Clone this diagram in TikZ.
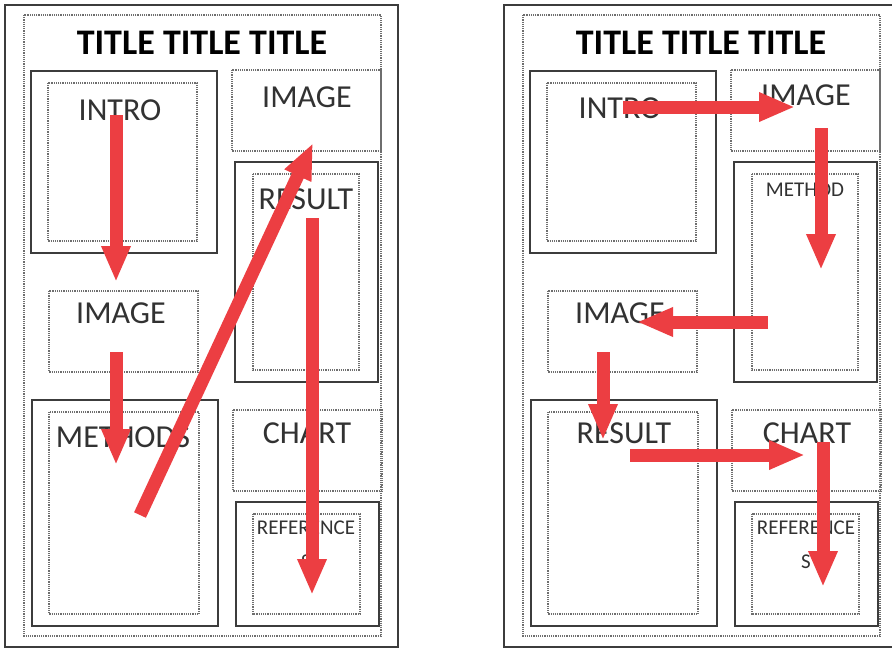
\documentclass[tikz,border=0pt]{standalone}
\usepackage{fontspec}
\setmainfont{Carlito}
\usepackage{xcolor}
\usetikzlibrary{arrows.meta}
\definecolor{frameline}{RGB}{60, 60, 60}
\definecolor{dotline}{RGB}{110, 110, 110}
\definecolor{labeltext}{RGB}{50, 50, 50}
\definecolor{flow}{RGB}{236, 62, 66}

\begin{document}
\begin{tikzpicture}[x=1pt,y=-1pt,
  solidbox/.style={frameline,line width=1.4pt},
  dotbox/.style={dotline,line width=1.2pt,densely dotted},
  title/.style={font=\bfseries\fontsize{36}{36}\selectfont,text=black},
  label/.style={font=\fontsize{32}{32}\selectfont,text=labeltext},
  smalllabel/.style={font=\fontsize{21}{34}\selectfont,text=labeltext,align=center},
  flowarrow/.style={flow,line width=13pt,-{Triangle[width=27pt,length=36pt]}}]
\clip (0,0) rectangle (892,649);
\fill[white] (0,0) rectangle (892,649);
% the same frame on both sheets
\foreach \dx in {0,499} {
  \begin{scope}[xshift=\dx]
  \draw[solidbox] (5,5) rectangle (398,647);
  \draw[dotbox] (24,15) rectangle (381,636);
  \draw[solidbox] (31,71) rectangle (217,253);
  \draw[dotbox] (48,83) rectangle (197,241);
  \draw[dotbox] (232,70) rectangle (381,151);
  \draw[solidbox] (235,162) rectangle (378,382);
  \draw[dotbox] (253,174) rectangle (359,370);
  \draw[dotbox] (49,291) rectangle (198,372);
  \draw[solidbox] (32,400) rectangle (218,626);
  \draw[dotbox] (49,412) rectangle (199,614);
  \draw[dotbox] (233,410) rectangle (382,491);
  \draw[solidbox] (236,502) rectangle (379,626);
  \draw[dotbox] (253,514) rectangle (360,614);
  \end{scope}
}
% left sheet
\node[title] (lTitle) at (202,43) {TITLE TITLE TITLE};
\node[label] (lIntro) at (120,110) {INTRO};
\node[label] (lImageA) at (307,97) {IMAGE};
\node[label] (lResult) at (306,199) {RESULT};
\node[label] (lImageB) at (121,313) {IMAGE};
\node[label] (lMethods) at (123,437) {METHODS};
\node[label] (lChart) at (307,433) {CHART};
\node[smalllabel] (lRefs) at (306,545) {REFERENCE\\S};
% right sheet
\node[title] (rTitle) at (701,43) {TITLE TITLE TITLE};
\node[label] (rIntro) at (620,108) {INTRO};
\node[label] (rImageA) at (806,95) {IMAGE};
\node[smalllabel] (rMethod) at (805,190) {METHOD};
\node[label] (rImageB) at (620,313) {IMAGE};
\node[label] (rResult) at (624,433) {RESULT};
\node[label] (rChart) at (807,433) {CHART};
\node[smalllabel] (rRefs) at (806,545) {REFERENCE\\S};
% reading order, left
\coordinate (lA) at (116,115);
\coordinate (lB) at (116,282);
\coordinate (lC) at (116,352);
\coordinate (lD) at (116,465);
\coordinate (lE) at (140,515);
\coordinate (lF) at (313,143);
\coordinate (lG) at (312,218);
\coordinate (lH) at (312,595);
\draw[flowarrow] (lA) -- (lB);
\draw[flowarrow] (lC) -- (lD);
\draw[flowarrow] (lE) -- (lF);
\draw[flowarrow] (lG) -- (lH);
% reading order, right
\coordinate (rA) at (623,107);
\coordinate (rB) at (795,107);
\coordinate (rC) at (821,128);
\coordinate (rD) at (821,270);
\coordinate (rE) at (768,322);
\coordinate (rF) at (637,322);
\coordinate (rG) at (603,352);
\coordinate (rH) at (603,440);
\coordinate (rI) at (630,455);
\coordinate (rJ) at (805,455);
\coordinate (rK) at (823,442);
\coordinate (rL) at (823,587);
\draw[flowarrow] (rA) -- (rB);
\draw[flowarrow] (rC) -- (rD);
\draw[flowarrow] (rE) -- (rF);
\draw[flowarrow] (rG) -- (rH);
\draw[flowarrow] (rI) -- (rJ);
\draw[flowarrow] (rK) -- (rL);
\end{tikzpicture}
\end{document}
